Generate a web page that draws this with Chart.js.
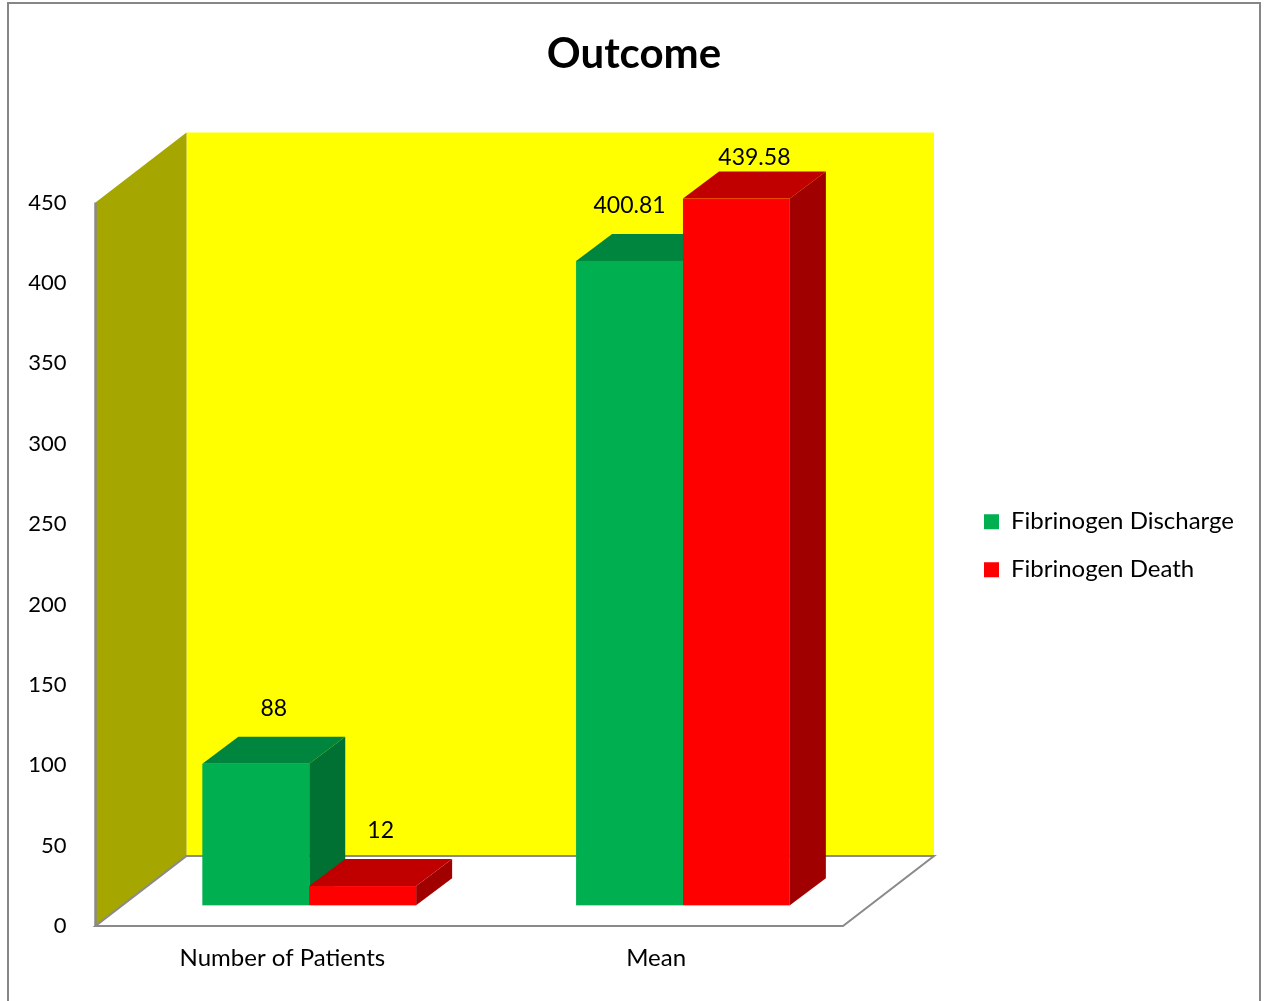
<!DOCTYPE html>
<html>
<head>
<meta charset="utf-8">
<title>Outcome</title>
<script src="https://cdn.jsdelivr.net/npm/chart.js@4.4.1/dist/chart.umd.min.js"></script>
<style>
  html, body { margin: 0; padding: 0; background: #ffffff; }
  #wrap { width: 1264px; height: 1001px; position: relative; }
  canvas { display: block; }
</style>
</head>
<body>
<div id="wrap"><canvas id="chart" width="1264" height="1001"></canvas></div>
<script>
// ---- data ----
const categories = ['Number of Patients', 'Mean'];
const seriesNames = ['Fibrinogen Discharge', 'Fibrinogen Death'];
const dischargeValues = [88, 400.81];
const deathValues = [12, 439.58];
const yTicks = [0, 50, 100, 150, 200, 250, 300, 350, 400, 450];

// ---- look ----
const FONT = 'Lato';
const FRONT = ['#00B050', '#FF0000'];
const TOP = ['#00853E', '#C00000'];
const SIDE = ['#007033', '#A00000'];
const BACK_WALL = '#FFFF00';
const SIDE_WALL = '#A6A600';
const EDGE = '#8A8A8A';

// 3-D room: depth vector of the walls, where the bars sit inside it, bar depth
const WALL_DEPTH = { x: 91, y: -70 };
const BAR_START = 0.295;
const BAR_DEPTH = { x: 36, y: -27 };

// ---- layout ----
const CANVAS_W = 1264;
const PLOT_LEFT = 95.5;
const Y_MAX = 473;
const LEGEND_BOX_X = 984;
const LEGEND_PAD = 24;
const LEGEND_FONT = 24;
const LEGEND_BOX = 15;
const DEPTH_GAP = LEGEND_BOX_X - LEGEND_PAD - 843;

const canvas = document.getElementById('chart');
const mctx = canvas.getContext('2d');
mctx.font = LEGEND_FONT + 'px ' + FONT;
const legendTextW = Math.max(...seriesNames.map(t => mctx.measureText(t).width));
const legendItemW = LEGEND_BOX + LEGEND_FONT / 2 + legendTextW;
// legend item box lands at LEGEND_BOX_X; left pad keeps the title centred on the frame
const padRight = CANVAS_W - LEGEND_BOX_X - legendItemW - 10;
const padLeft = padRight + 4;

function poly(c, pts, fill, stroke, lw) {
  c.beginPath();
  c.moveTo(pts[0][0], pts[0][1]);
  for (let i = 1; i < pts.length; i++) c.lineTo(pts[i][0], pts[i][1]);
  c.closePath();
  if (fill) { c.fillStyle = fill; c.fill(); }
  if (stroke) { c.strokeStyle = stroke; c.lineWidth = lw || 1; c.stroke(); }
}

function drawRoom(chart) {
  const c = chart.ctx;
  const L = chart.chartArea.left, R = chart.chartArea.right;
  const ys = chart.scales.y;
  const y0 = ys.getPixelForValue(0);
  const yt = ys.getPixelForValue(yTicks[yTicks.length - 1]);
  const dx = WALL_DEPTH.x, dy = WALL_DEPTH.y;
  c.save();
  c.fillStyle = BACK_WALL;
  c.fillRect(L + dx, yt + dy, R - L, y0 - yt);
  poly(c, [[L, yt], [L + dx, yt + dy], [L + dx, y0 + dy], [L, y0]], SIDE_WALL);
  poly(c, [[L, y0], [R, y0], [R + dx, y0 + dy], [L + dx, y0 + dy]], '#FFFFFF', EDGE, 2);
  c.beginPath();
  c.moveTo(L, yt);
  c.lineTo(L, y0);
  c.strokeStyle = EDGE;
  c.lineWidth = 2.5;
  c.stroke();
  c.restore();
}

function barGeometry(el) {
  const p = el.getProps(['x', 'y', 'base', 'width'], true);
  const ox = WALL_DEPTH.x * BAR_START, oy = WALL_DEPTH.y * BAR_START;
  return {
    x0: p.x - p.width / 2 + ox,
    x1: p.x + p.width / 2 + ox,
    cx: p.x + ox,
    yT: p.y + oy,
    yB: p.base + oy
  };
}

function drawBars(chart) {
  const c = chart.ctx;
  const bx = BAR_DEPTH.x, by = BAR_DEPTH.y;
  c.save();
  chart.data.datasets.forEach((ds, i) => {
    if (!chart.isDatasetVisible(i)) return;
    chart.getDatasetMeta(i).data.forEach(el => {
      const g = barGeometry(el);
      poly(c, [[g.x1, g.yT], [g.x1 + bx, g.yT + by], [g.x1 + bx, g.yB + by], [g.x1, g.yB]], SIDE[i]);
      poly(c, [[g.x0, g.yT], [g.x1, g.yT], [g.x1 + bx, g.yT + by], [g.x0 + bx, g.yT + by]], TOP[i]);
      c.fillStyle = FRONT[i];
      c.fillRect(g.x0, g.yT, g.x1 - g.x0, g.yB - g.yT);
    });
  });
  c.restore();
}

function drawValueLabels(chart) {
  const c = chart.ctx;
  const ys = chart.scales.y;
  const wallTop = ys.getPixelForValue(yTicks[yTicks.length - 1]) + WALL_DEPTH.y;
  const sets = chart.data.datasets;
  c.save();
  c.font = '23px ' + FONT;
  c.fillStyle = '#000000';
  c.textAlign = 'center';
  c.textBaseline = 'middle';
  sets.forEach((ds, i) => {
    if (!chart.isDatasetVisible(i)) return;
    chart.getDatasetMeta(i).data.forEach((el, j) => {
      const g = barGeometry(el);
      const v = ds.data[j];
      let lx = g.cx + BAR_DEPTH.x / 2;
      // a taller neighbour on the right pushes the label back over the front face
      const next = sets[i + 1];
      if (next && chart.isDatasetVisible(i + 1) && next.data[j] > v) lx = g.cx;
      const ly = Math.max(g.yT + BAR_DEPTH.y - 28, wallTop + 25);
      c.fillText(String(v), lx, ly);
    });
  });
  c.restore();
}

const roomPlugin = {
  id: 'room3d',
  beforeDraw(chart) {
    const c = chart.ctx;
    c.save();
    c.fillStyle = '#FFFFFF';
    c.fillRect(0, 0, chart.width, chart.height);
    c.strokeStyle = '#868686';
    c.lineWidth = 2;
    c.strokeRect(8, 3, 1252, 1010);
    c.restore();
  },
  beforeDatasetsDraw(chart) {
    drawRoom(chart);
    drawBars(chart);
    drawValueLabels(chart);
    return false;
  }
};

Chart.defaults.font.family = FONT;
Chart.defaults.color = '#000000';

new Chart(canvas, {
  type: 'bar',
  data: {
    labels: categories,
    datasets: [
      { label: seriesNames[0], data: dischargeValues, backgroundColor: FRONT[0], borderWidth: 0 },
      { label: seriesNames[1], data: deathValues, backgroundColor: FRONT[1], borderWidth: 0 }
    ]
  },
  options: {
    responsive: false,
    animation: false,
    events: [],
    categoryPercentage: 0.572,
    barPercentage: 1,
    layout: { padding: { left: padLeft, top: 0, right: padRight, bottom: 10.2 } },
    plugins: {
      title: {
        display: true,
        text: 'Outcome',
        color: '#000000',
        font: { family: FONT, size: 42, weight: 'bold', lineHeight: 1.2 },
        padding: { top: 28.8, bottom: 86.3 }
      },
      legend: {
        display: true,
        position: 'right',
        fullSize: false,
        maxWidth: 600,
        labels: {
          boxWidth: LEGEND_BOX,
          boxHeight: LEGEND_BOX,
          padding: LEGEND_PAD,
          color: '#000000',
          font: { family: FONT, size: LEGEND_FONT }
        }
      },
      tooltip: { enabled: false }
    },
    scales: {
      x: {
        type: 'category',
        grid: { display: false, drawTicks: false },
        border: { display: false },
        ticks: { padding: 18, color: '#000000', font: { family: FONT, size: 24 } }
      },
      y: {
        type: 'linear',
        position: 'left',
        min: 0,
        max: Y_MAX,
        grid: { display: false, drawTicks: false },
        border: { display: false },
        ticks: { padding: 29, color: '#000000', font: { family: FONT, size: 22 } },
        afterBuildTicks: s => { s.ticks = yTicks.map(v => ({ value: v })); },
        afterFit: s => { s.width = PLOT_LEFT - padLeft; }
      },
      depth: {
        type: 'linear',
        position: 'right',
        display: true,
        grid: { display: false, drawTicks: false },
        border: { display: false },
        ticks: { display: false },
        afterFit: s => { s.width = DEPTH_GAP; }
      }
    }
  },
  plugins: [roomPlugin]
});
</script>
</body>
</html>
